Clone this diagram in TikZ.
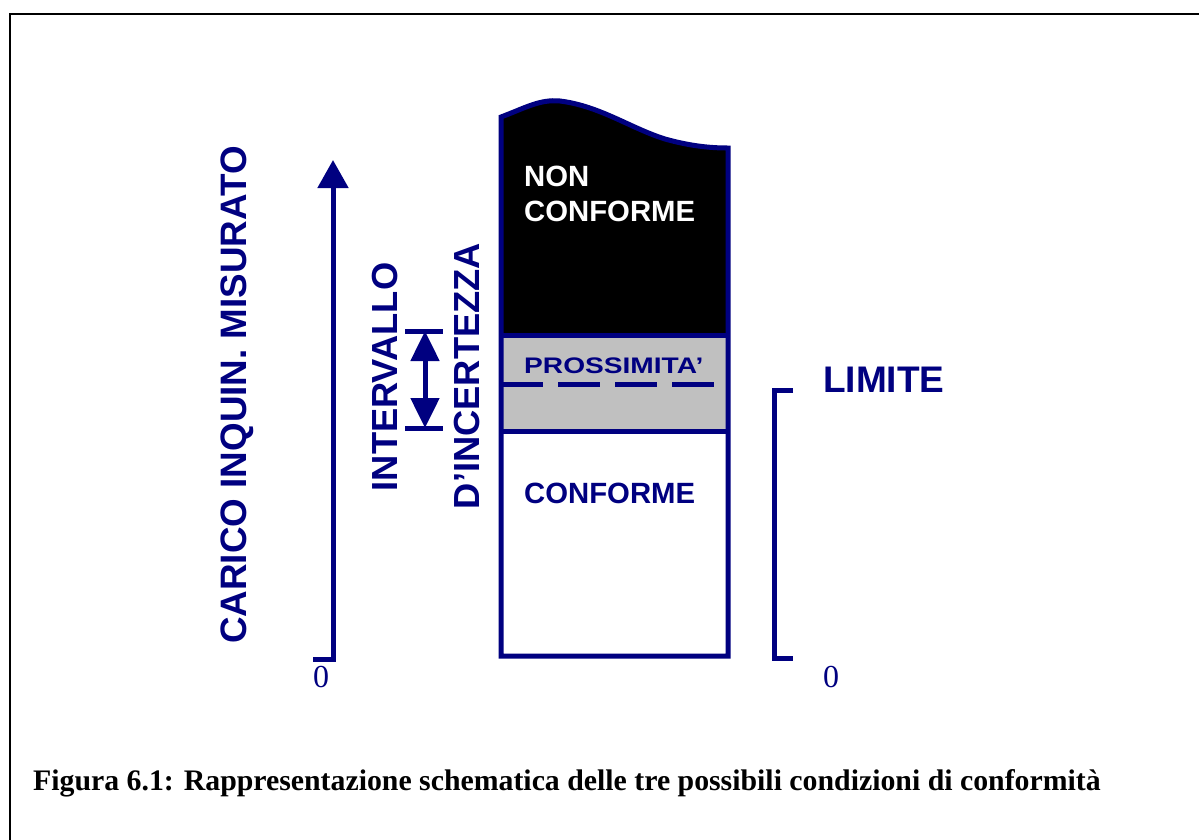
\documentclass[tikz,border=0pt]{standalone}
\usepackage{fontspec}
\setmainfont{Liberation Serif}
\newfontfamily\arial{Liberation Sans}
\usetikzlibrary{arrows.meta}
\definecolor{navy}{HTML}{000080}
\definecolor{zonegray}{HTML}{C0C0C0}
\tikzset{
  lab/.style={font=\arial\bfseries\fontsize{36}{38}\selectfont, text=navy, inner sep=0pt},
  boxlab/.style={font=\arial\bfseries\fontsize{29.3}{35}\selectfont, inner sep=0pt, anchor=west, align=left},
  zero/.style={font=\fontsize{32}{34}\selectfont, text=navy, inner sep=0pt},
  thick navy/.style={draw=navy, line width=5pt},
}
\begin{document}
\begin{tikzpicture}[x=1pt,y=-1pt]
\useasboundingbox (0,0) rectangle (1199,839);
\clip (0,0) rectangle (1199,839);
% frame
\draw[line width=2pt] (10,850) -- (10,14) -- (1210,14);

% main axis
\coordinate (axb) at (333,659);
\coordinate (axt) at (333,160);
\coordinate (axf) at (313,659);
\draw[thick navy, -{Triangle[width=30pt,length=28pt]}] (axf) -- (axb) -- (axt);
\node[zero] (z1) at (321,677) {0};
\node[lab, rotate=90, font=\arial\bfseries\fontsize{36.8}{40}\selectfont] (carico) at (237,395) {CARICO INQUIN. MISURATO};

% uncertainty interval
\node[lab, rotate=90, font=\arial\bfseries\fontsize{36.3}{40}\selectfont] (interv) at (385,377) {INTERVALLO};
\node[lab, rotate=90, font=\arial\bfseries\fontsize{36.3}{40}\selectfont] (dinc) at (467,376) {D’INCERTEZZA};
\coordinate (ut) at (425,331);
\coordinate (ub) at (425,428);
\draw[thick navy] (405,331) -- (443,331);
\draw[thick navy] (405,428) -- (443,428);
\draw[thick navy, {Triangle[width=28pt,length=30pt]}-{Triangle[width=28pt,length=30pt]}] (ut) -- (ub);

% box
\fill[black] (501,335) -- (501,117) .. controls (525,108) and (540,99) .. (560,101)
   .. controls (600,106) and (630,128) .. (665,139) .. controls (690,146) and (710,148) .. (728,148) -- (728,335) -- cycle;
\fill[zonegray] (501,335) rectangle (728,431);
\draw[thick navy, line join=miter] (501,656) -- (501,117) .. controls (525,108) and (540,99) .. (560,101)
   .. controls (600,106) and (630,128) .. (665,139) .. controls (690,146) and (710,148) .. (728,148) -- (728,656) -- cycle;
\draw[thick navy] (501,335) -- (728,335);
\draw[thick navy] (501,431) -- (728,431);
\draw[draw=navy, line width=5pt, dash pattern=on 41.5pt off 15.5pt] (501,384) -- (714,384);

\node[boxlab, text=white, align=left] (nonc) at (524,194) {NON\\[-0.5pt]CONFORME};
\node[boxlab, text=navy, anchor=west] (prox) at (524,366) {\fontsize{22.5}{24}\selectfont\scalebox{1.25}[1]{PROSSIMITA’}};
\node[boxlab, text=navy] (conf) at (524,493) {CONFORME};

% limit bracket
\draw[thick navy] (793,390) -- (774,390) -- (774,658) -- (793,658);
\node[lab, anchor=west, font=\arial\bfseries\fontsize{37}{40}\selectfont] (lim) at (823,380) {LIMITE};
\node[zero] (z2) at (831,677) {0};

% caption
\node[font=\bfseries\fontsize{29.8}{32}\selectfont, anchor=west, inner sep=0pt] (cap) at (33,783)
  {Figura 6.1: Rappresentazione schematica delle tre possibili condizioni di conformità};
\end{tikzpicture}
\end{document}
